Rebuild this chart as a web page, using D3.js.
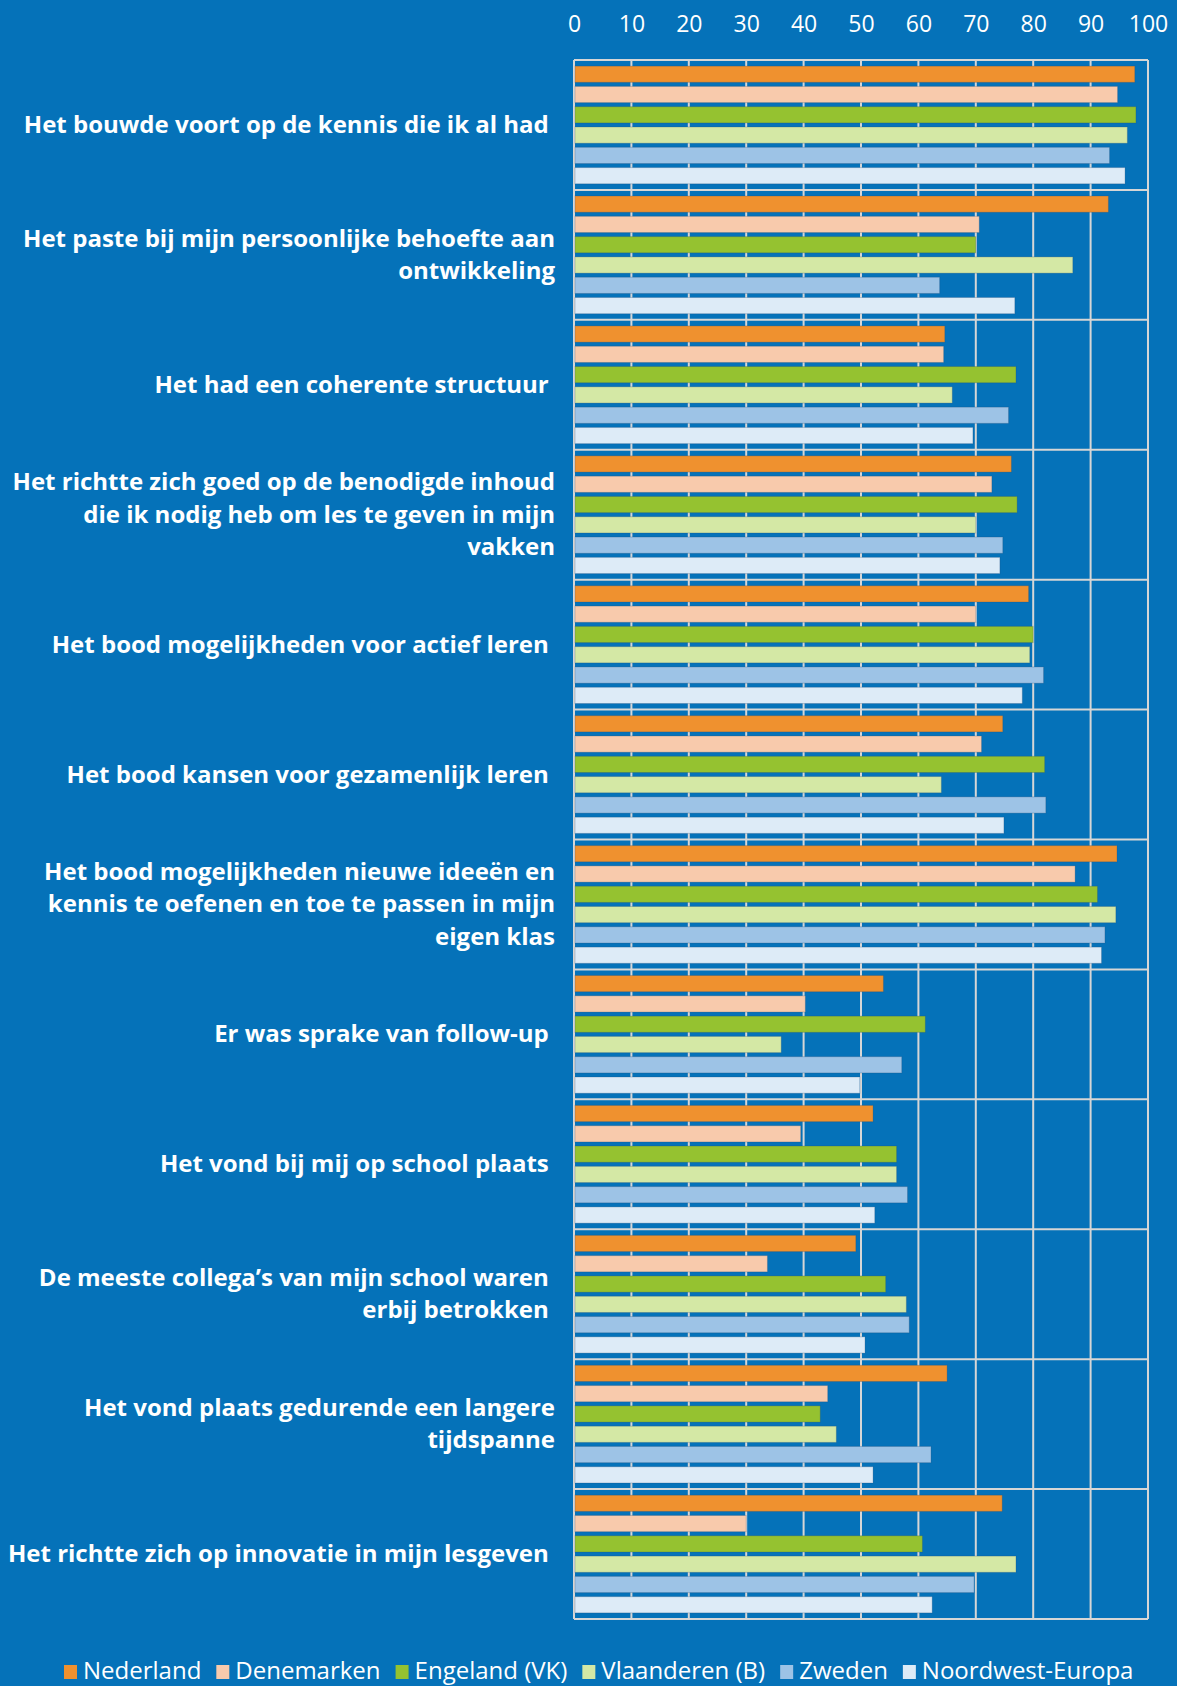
<!DOCTYPE html>
<html>
<head>
<meta charset="utf-8">
<script src="https://cdn.jsdelivr.net/npm/d3@7"></script>
<style>
  html, body { margin: 0; padding: 0; background: #0572b9; }
  svg { display: block; }
  text { font-family: "Open Sans", sans-serif; fill: #fff; white-space: pre; }
</style>
</head>
<body>
<div id="chart"></div>
<script>
// categories (each label split into its lines, trailing space kept as in the source)
var categories = [
  ["Het bouwde voort op de kennis die ik al had "],
  ["Het paste bij mijn persoonlijke behoefte aan", "ontwikkeling"],
  ["Het had een coherente structuur "],
  ["Het richtte zich goed op de benodigde inhoud", "die ik nodig heb om les te geven in mijn", "vakken"],
  ["Het bood mogelijkheden voor actief leren "],
  ["Het bood kansen voor gezamenlijk leren "],
  ["Het bood mogelijkheden nieuwe ideeën en", "kennis te oefenen en toe te passen in mijn", "eigen klas"],
  ["Er was sprake van follow-up "],
  ["Het vond bij mij op school plaats "],
  ["De meeste collega\u2019s van mijn school waren ", "erbij betrokken "],
  ["Het vond plaats gedurende een langere", "tijdspanne"],
  ["Het richtte zich op innovatie in mijn lesgeven "]
];

var seriesNames = ["Nederland", "Denemarken", "Engeland (VK)", "Vlaanderen (B)", "Zweden", "Noordwest-Europa"];
var seriesColors = ["#ef912f", "#f8caac", "#95c230", "#d4e8a5", "#9dc3e6", "#ddebf7"];

var nederland   = [97.7, 93.1, 64.6, 76.2, 79.2, 74.7, 94.6, 53.9, 52.1, 49.1, 65.0, 74.6];
var denemarken  = [94.7, 70.6, 64.4, 72.8, 70.0, 71.0, 87.3, 40.3, 39.5, 33.7, 44.2, 30.0];
var engeland    = [97.9, 70.0, 77.0, 77.2, 80.0, 82.0, 91.2, 61.2, 56.2, 54.3, 42.9, 60.7];
var vlaanderen  = [96.4, 86.9, 65.9, 70.0, 79.4, 64.0, 94.4, 36.1, 56.2, 57.9, 45.7, 77.0];
var zweden      = [93.3, 63.7, 75.7, 74.7, 81.8, 82.2, 92.5, 57.1, 58.1, 58.4, 62.2, 69.7];
var noordwest   = [96.0, 76.8, 69.5, 74.2, 78.1, 74.9, 91.9, 49.8, 52.4, 50.7, 52.1, 62.4];

var seriesValues = [nederland, denemarken, engeland, vlaanderen, zweden, noordwest];
var xTicks = [0, 10, 20, 30, 40, 50, 60, 70, 80, 90, 100];

var W = 1177, H = 1686;
var margin = { top: 60, right: 29, bottom: 67, left: 574 };
var width = W - margin.left - margin.right,
  height = H - margin.top - margin.bottom;

var svg = d3.select("#chart").append("svg")
  .attr("width", W)
  .attr("height", H);

svg.append("rect").attr("width", W).attr("height", H).attr("fill", "#0572b9");

var g = svg.append("g")
  .attr("transform", "translate(" + margin.left + "," + margin.top + ")");

var x = d3.scaleLinear().domain([0, 100]).range([0, width]);
var y0 = d3.scaleBand().domain(d3.range(categories.length)).range([0, height]);
var y1 = d3.scaleBand().domain(d3.range(seriesNames.length))
  .range([0, y0.bandwidth()])
  .paddingInner(0.2)
  .paddingOuter(0.3);

var gridColor = "#d6d6d6";

// vertical gridlines
g.append("g")
  .selectAll("line")
  .data(xTicks)
  .join("line")
  .attr("x1", function(d) { return x(d); })
  .attr("x2", function(d) { return x(d); })
  .attr("y1", 0)
  .attr("y2", height)
  .attr("stroke", gridColor)
  .attr("stroke-width", 2);

// horizontal separators between categories
g.append("g")
  .selectAll("line")
  .data(d3.range(categories.length + 1))
  .join("line")
  .attr("x1", 0)
  .attr("x2", width)
  .attr("y1", function(i) { return i < categories.length ? y0(i) : height; })
  .attr("y2", function(i) { return i < categories.length ? y0(i) : height; })
  .attr("stroke", gridColor)
  .attr("stroke-width", 2);

// bars
var groups = g.append("g")
  .selectAll("g")
  .data(categories)
  .join("g")
  .attr("transform", function(d, i) { return "translate(0," + y0(i) + ")"; });

groups.selectAll("rect")
  .data(function(d, i) {
    return seriesValues.map(function(vals, s) { return { s: s, v: vals[i] }; });
  })
  .join("rect")
  .attr("x", x(0) + 1)
  .attr("y", function(d) { return y1(d.s); })
  .attr("width", function(d) { return x(d.v) - x(0) - 1; })
  .attr("height", y1.bandwidth())
  .attr("fill", function(d) { return seriesColors[d.s]; })
  .attr("stroke", "rgba(40,70,110,0.25)")
  .attr("stroke-width", 1);

// top axis
var xAxis = d3.axisTop(x).tickValues(xTicks).tickSize(0).tickPadding(0);
var axisG = svg.append("g")
  .attr("transform", "translate(" + margin.left + ",32)")
  .call(xAxis);
axisG.select(".domain").remove();
axisG.selectAll("text")
  .attr("fill", "#fff")
  .attr("dy", 0)
  .style("font-size", "23px")
  .style("font-family", "'Open Sans', sans-serif");

// category labels
var lineHeight = 32.5;
var labels = svg.append("g")
  .selectAll("text")
  .data(categories)
  .join("text")
  .attr("text-anchor", "end")
  .attr("font-weight", "bold")
  .attr("font-size", "24px")
  .attr("x", 555)
  .attr("y", function(d, i) {
    var mid = margin.top + y0(i) + y0.bandwidth() / 2;
    return mid - (d.length - 1) * lineHeight / 2 + 8;
  });

labels.selectAll("tspan")
  .data(function(d) { return d; })
  .join("tspan")
  .attr("x", 555)
  .attr("dy", function(d, j) { return j === 0 ? 0 : lineHeight; })
  .text(function(d) { return d; });

// legend
var legend = svg.append("g").attr("transform", "translate(64,1679)");
var lx = 0;
seriesNames.forEach(function(name, i) {
  legend.append("rect")
    .attr("x", lx)
    .attr("y", -14)
    .attr("width", 13)
    .attr("height", 14)
    .attr("fill", seriesColors[i]);
  var t = legend.append("text")
    .attr("x", lx + 19)
    .attr("y", 0)
    .attr("font-size", "24px")
    .text(name);
  lx += 19 + t.node().getComputedTextLength() + 15;
});
</script>
</body>
</html>
